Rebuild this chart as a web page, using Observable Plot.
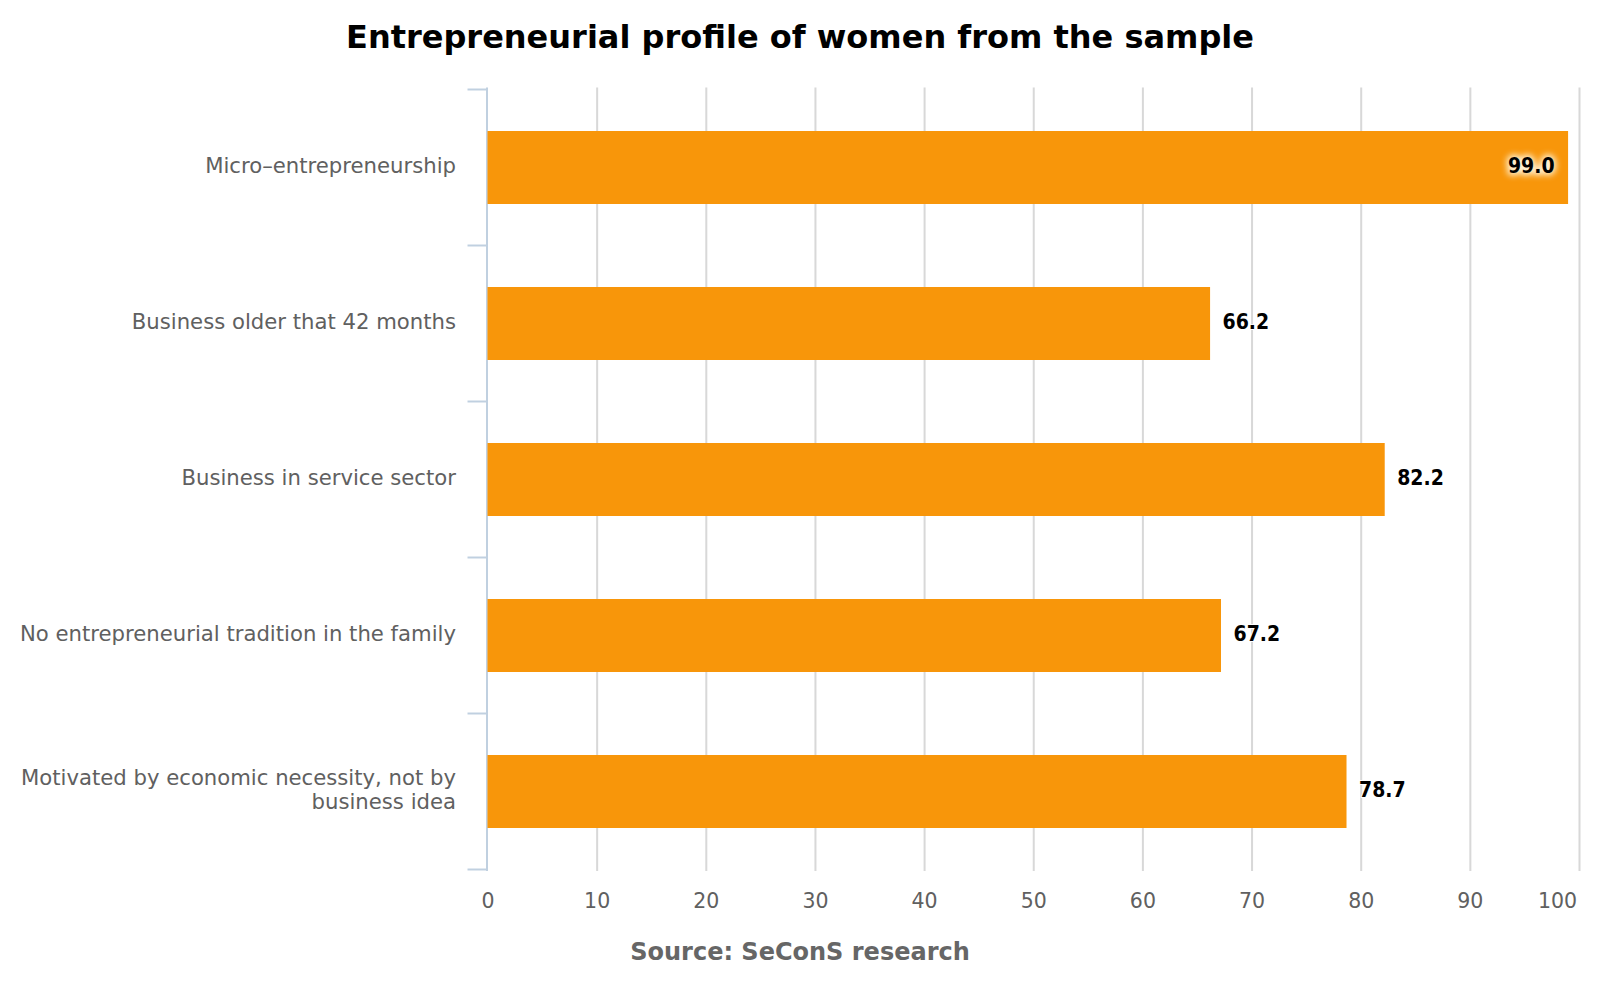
<!DOCTYPE html>
<html>
<head>
<meta charset="utf-8">
<script src="https://cdn.jsdelivr.net/npm/d3@7"></script>
<script src="https://cdn.jsdelivr.net/npm/@observablehq/plot@0.6"></script>
<style>
html, body { margin: 0; padding: 0; background: #fff; }
#wrap { width: 1600px; }
#title { height: 80px; box-sizing: border-box; padding-top: 21px; font: bold 32px/32px "DejaVu Sans", sans-serif; text-align: center; color: #000; }
#source { margin-top: 20px; font: bold 24px/24px "DejaVu Sans", sans-serif; color: #666; text-align: center; }
svg { display: block; }
</style>
</head>
<body>
<div id="wrap">
  <div id="title">Entrepreneurial profile of women from the sample</div>
  <div id="chart"></div>
  <div id="source">Source: SeConS research</div>
</div>
<script>
const categories = [
  "Micro–entrepreneurship",
  "Business older that 42 months",
  "Business in service sector",
  "No entrepreneurial tradition in the family",
  "Motivated by economic necessity, not by business idea"
];
const tickLabels = [
  "Micro–entrepreneurship",
  "Business older that 42 months",
  "Business in service sector",
  "No entrepreneurial tradition in the family",
  "Motivated by economic necessity, not by\nbusiness idea"
];
const values = [99.0, 66.2, 82.2, 67.2, 78.7];
const xTicks = [0, 10, 20, 30, 40, 50, 60, 70, 80, 90, 100];

const data = categories.map((c, i) => ({category: c, value: values[i]}));
const labelOf = new Map(categories.map((c, i) => [c, tickLabels[i]]));
const inside = d => d.value > 95;
const outside = d => !inside(d);
const fmt = d => d.value.toFixed(1);

const barColor = "#f8960a";
const labelFont = "DejaVu Sans Condensed, DejaVu Sans, sans-serif";

const chart = Plot.plot({
  width: 1600,
  height: 840,
  marginLeft: 487.5,
  marginRight: 21,
  marginTop: 7.5,
  marginBottom: 49,
  style: {fontFamily: "DejaVu Sans, sans-serif", background: "#fff", overflow: "visible"},
  x: {domain: [0, 100], label: null},
  y: {domain: categories, paddingInner: 0.531, paddingOuter: 0.2655, align: 0.5, label: null},
  marks: [
    Plot.gridX({ticks: xTicks.filter(t => t > 0), stroke: "#d8d8d8", strokeOpacity: 1, strokeWidth: 2}),
    Plot.ruleX([0], {stroke: "#c0d0e0", strokeWidth: 2, dx: -1}),
    Plot.barX(data, {x: "value", y: "category", fill: barColor}),
    Plot.axisX({ticks: xTicks.filter(t => t < 100), tickSize: 0, tickPadding: 22, fontSize: 20.5, fill: "#606060", label: null, tickFormat: d => String(d)}),
    Plot.axisX({ticks: xTicks.filter(t => t === 100), tickSize: 0, tickPadding: 22, fontSize: 20.5, fill: "#606060", label: null, dx: -22, tickFormat: d => String(d)}),
    Plot.axisY({tickSize: 0, tickPadding: 32, fontSize: 21.2, fill: "#606060", label: null, lineHeight: 24 / 21.2, dy: -3, tickFormat: d => labelOf.get(d)}),
    Plot.text(data.filter(inside), {x: "value", y: "category", text: fmt, textAnchor: "end", dx: -14, dy: -1.5, fontSize: 21, fontWeight: "bold", fontFamily: labelFont, fill: "#fffbe8", stroke: "#fffbe8", strokeWidth: 5, opacity: 0.9, ariaLabel: "halo", imageFilter: "blur(3px)"}),
    Plot.text(data.filter(inside), {x: "value", y: "category", text: fmt, textAnchor: "end", dx: -14, dy: -1.5, fontSize: 21, fontWeight: "bold", fontFamily: labelFont, fill: "#000"}),
    Plot.text(data.filter(outside), {x: "value", y: "category", text: fmt, textAnchor: "start", dx: 12, dy: -1.5, fontSize: 21, fontWeight: "bold", fontFamily: labelFont, fill: "#000", stroke: "#fff", strokeWidth: 2})
  ]
});

// Soft glow behind the in-bar label (fallback if imageFilter is unsupported)
const svgSel = d3.select(chart);
svgSel.selectAll('g[aria-label="halo"]').style("filter", "blur(3px)");

// Category boundary ticks on the y axis, positioned with the plot's own scales
const ys = chart.scale("y");
const xs = chart.scale("x");
const gap = (ys.step - ys.bandwidth) / 2;
const bounds = categories.map(c => ys.apply(c) - gap)
  .concat([ys.apply(categories[categories.length - 1]) + ys.bandwidth + gap]);
const x0 = xs.apply(0) - 1;
svgSel.append("g")
  .attr("aria-label", "y-boundary-ticks")
  .selectAll("line").data(bounds).join("line")
  .attr("x1", x0 - 19).attr("x2", x0)
  .attr("y1", d => d).attr("y2", d => d)
  .attr("stroke", "#c0d0e0").attr("stroke-width", 2);

document.getElementById("chart").appendChild(chart);
</script>
</body>
</html>
